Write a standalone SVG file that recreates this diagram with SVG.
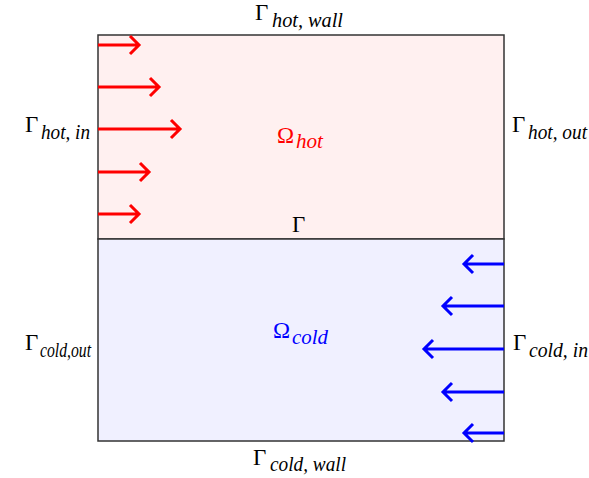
<svg xmlns="http://www.w3.org/2000/svg" width="589" height="478" viewBox="0 0 589 478">
<style>
.lbl{font-family:"Liberation Serif","Times New Roman",serif;font-size:23px;fill:#000}
.sub{font-family:"Liberation Serif","Times New Roman",serif;font-style:italic;font-size:20px;fill:#000}
.red{fill:#ff0000}
.blue{fill:#0000ff}
.hot{stroke:#ff0000;stroke-width:3;fill:none}
.cold{stroke:#0000ff;stroke-width:3;fill:none}
.border{stroke:#333;stroke-width:1.5}
</style>
<g id="domain-hot">
<rect x="98" y="35" width="406" height="204" fill="#fff0f0" class="border"/>
</g>
<g id="domain-cold">
<rect x="98" y="239" width="406" height="202" fill="#f0f0ff" class="border"/>
</g>
<g id="connectors">
<g class="hot">
<path d="M98 45H139M130 36L139 45L130 54"/>
<path d="M98 87H159M150 78L159 87L150 96"/>
<path d="M98 129H180M171 120L180 129L171 138"/>
<path d="M98 172H149M140 163L149 172L140 181"/>
<path d="M98 214H139M130 205L139 214L130 223"/>
</g>
<g class="cold">
<path d="M504 264H464M473 255L464 264L473 273"/>
<path d="M504 306H443M452 297L443 306L452 315"/>
<path d="M504 349H424M433 340L424 349L433 358"/>
<path d="M504 392H443M452 383L443 392L452 401"/>
<path d="M504 433H464M473 424L464 433L473 442"/>
</g>
</g>
<g id="label-hot-wall"><text class="lbl" x="255" y="20">Γ</text><text class="sub" x="272" y="27" textLength="71" lengthAdjust="spacingAndGlyphs">hot, wall</text></g>
<g id="label-hot-in"><text class="lbl" x="25" y="132">Γ</text><text class="sub" x="41" y="139" textLength="49" lengthAdjust="spacingAndGlyphs">hot, in</text></g>
<g id="label-hot-out"><text class="lbl" x="512" y="132">Γ</text><text class="sub" x="528" y="139" textLength="59" lengthAdjust="spacingAndGlyphs">hot, out</text></g>
<g id="label-omega-hot"><text class="lbl red" x="277" y="143">Ω</text><text class="sub red" x="296" y="148" textLength="27" lengthAdjust="spacingAndGlyphs">hot</text></g>
<g id="label-interface"><text class="lbl" x="292" y="232">Γ</text></g>
<g id="label-omega-cold"><text class="lbl blue" x="273" y="338">Ω</text><text class="sub blue" x="292" y="344" textLength="36" lengthAdjust="spacingAndGlyphs">cold</text></g>
<g id="label-cold-out"><text class="lbl" x="25" y="350">Γ</text><text class="sub" x="40" y="357" textLength="51" lengthAdjust="spacingAndGlyphs">cold,out</text></g>
<g id="label-cold-in"><text class="lbl" x="513" y="350">Γ</text><text class="sub" x="529" y="357" textLength="59" lengthAdjust="spacingAndGlyphs">cold, in</text></g>
<g id="label-cold-wall"><text class="lbl" x="253" y="465">Γ</text><text class="sub" x="270" y="471" textLength="76" lengthAdjust="spacingAndGlyphs">cold, wall</text></g>
</svg>
